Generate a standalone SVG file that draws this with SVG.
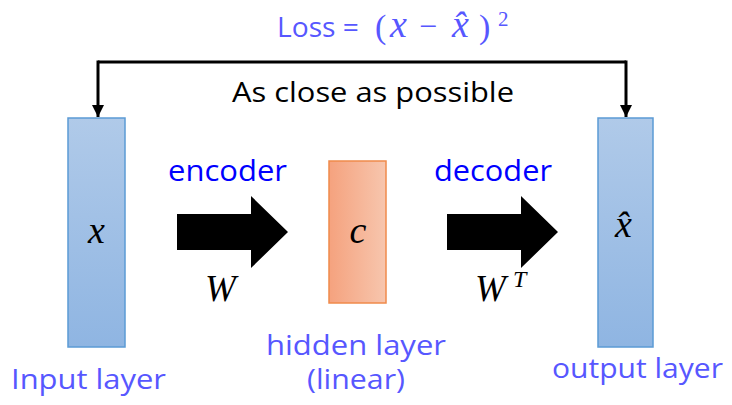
<svg xmlns="http://www.w3.org/2000/svg" width="732" height="405" viewBox="0 0 732 405">
<defs>
<linearGradient id="gBlue" x1="0" y1="0" x2="0" y2="1">
<stop offset="0" stop-color="#B0CAE9"/>
<stop offset="1" stop-color="#8FB5E2"/>
</linearGradient>
<linearGradient id="gOrange" x1="0" y1="0" x2="1" y2="0">
<stop offset="0" stop-color="#F5A27E"/>
<stop offset="1" stop-color="#F7C6AE"/>
</linearGradient>
<marker id="ah" viewBox="0 0 10 10" refX="10" refY="5" markerWidth="4" markerHeight="4" orient="auto" markerUnits="strokeWidth">
<path d="M0,0 L10,5 L0,10 z" fill="#000"/>
</marker>
<style>
.lbl{font-family:"Open Sans","Liberation Sans",sans-serif;fill:#5757FF;font-size:27px}
.blue{font-family:"Open Sans","Liberation Sans",sans-serif;fill:#0000FF;font-size:29px}
.blk{font-family:"Open Sans","Liberation Sans",sans-serif;fill:#000;font-size:27px}
.m{font-family:"Liberation Serif","DejaVu Serif",serif;font-style:italic;fill:#000}
.ml{font-family:"Liberation Serif","DejaVu Serif",serif;font-style:italic;fill:#5757FF}
.up{font-style:normal}
.layerB{fill:url(#gBlue);stroke:#5B9BD5;stroke-width:1.5}
.layerO{fill:url(#gOrange);stroke:#F08A4B;stroke-width:1.5}
.conn{fill:none;stroke:#000;stroke-width:3}
</style>
</defs>
<rect width="732" height="405" fill="#fff"/>

<g id="loss">
<text class="lbl" x="277" y="37" font-size="29" textLength="82" lengthAdjust="spacingAndGlyphs">Loss =</text>
<text class="ml up" x="375" y="38" font-size="34">(</text>
<text class="ml" x="390" y="37" font-size="38">x</text>
<text class="ml up" x="419" y="37" font-size="32">−</text>
<text class="ml" x="452" y="37" font-size="38">x̂</text>
<text class="ml up" x="479" y="38" font-size="34">)</text>
<text class="ml up" x="498" y="26" font-size="21">2</text>
</g>

<g id="connectors">
<path class="conn" d="M98,62 H626"/>
<path class="conn" d="M98,60.5 V117" marker-end="url(#ah)"/>
<path class="conn" d="M626,60.5 V117" marker-end="url(#ah)"/>
<path d="M177,214 H251 V196 L288,232 L251,268 V250 H177 Z" fill="#000"/>
<path d="M447,214 H521 V196 L558,232 L521,268 V250 H447 Z" fill="#000"/>
</g>

<g id="note">
<text class="blk" x="232" y="102" textLength="282" lengthAdjust="spacingAndGlyphs">As close as possible</text>
</g>

<g id="input-layer">
<rect class="layerB" x="68" y="118" width="57" height="229"/>
<text class="m" x="96.5" y="243" font-size="38" text-anchor="middle">x</text>
<text class="lbl" x="11" y="389" textLength="155" lengthAdjust="spacingAndGlyphs">Input layer</text>
</g>

<g id="hidden-layer">
<rect class="layerO" x="329" y="161" width="57" height="142"/>
<text class="m" x="358" y="243" font-size="38" text-anchor="middle">c</text>
<text class="lbl" x="356" y="355" text-anchor="middle" textLength="180" lengthAdjust="spacingAndGlyphs">hidden layer</text>
<text class="lbl" x="356" y="389" text-anchor="middle" textLength="98" lengthAdjust="spacingAndGlyphs">(linear)</text>
</g>

<g id="output-layer">
<rect class="layerB" x="598" y="118" width="55" height="229"/>
<text class="m" x="615" y="237" font-size="38">x̂</text>
<text class="lbl" x="552" y="378" textLength="171" lengthAdjust="spacingAndGlyphs">output layer</text>
</g>

<g id="encoder">
<text class="blue" x="168" y="181" textLength="119" lengthAdjust="spacingAndGlyphs">encoder</text>
<text class="m" x="205" y="301" font-size="37">W</text>
</g>

<g id="decoder">
<text class="blue" x="434" y="181" textLength="118" lengthAdjust="spacingAndGlyphs">decoder</text>
<text class="m" x="475" y="301" font-size="37">W</text>
<text class="m" x="513" y="287" font-size="24">T</text>
</g>
</svg>
